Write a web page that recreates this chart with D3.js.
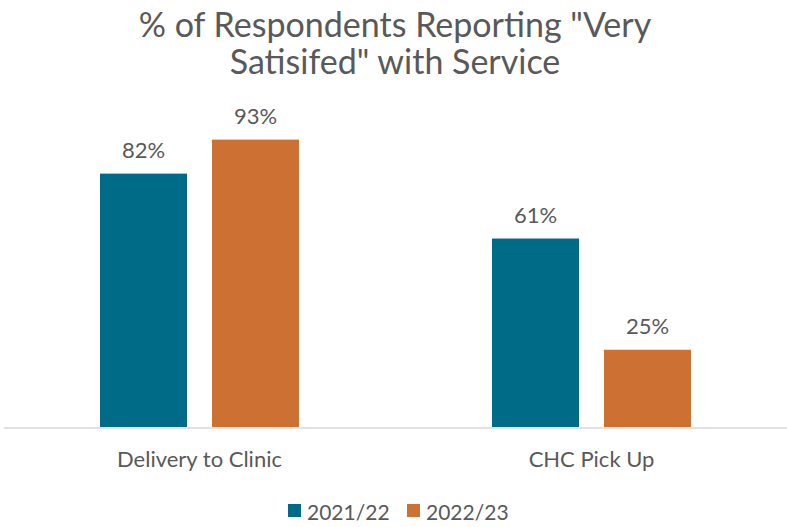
<!DOCTYPE html>
<html lang="en">
<head>
<meta charset="UTF-8">
<title>Very Satisfied with Service</title>
<script src="https://cdn.jsdelivr.net/npm/d3@7"></script>
<style>
  body { margin: 0; background: #fff; }
  text { font-family: Lato, "Open Sans", sans-serif; fill: #595959; }
</style>
</head>
<body>
<div id="chart"></div>
<script>
const categories = ["Delivery to Clinic", "CHC Pick Up"];
const seriesNames = ["2021/22", "2022/23"];
const values2122 = [0.82, 0.61];
const values2223 = [0.93, 0.25];
const titleLines = ["% of Respondents Reporting \"Very", "Satisifed\" with Service"];
const colors = ["#006B87", "#CD7034"];

const width = 787;
const height = 527;
const baseY = 427;

const svg = d3.select("#chart").append("svg")
    .attr("width", width)
    .attr("height", height);

const x = d3.scaleBand()
    .domain(categories)
    .range([3.5, 787.5])
    .padding(0);

const x1 = d3.scaleBand()
    .domain(seriesNames)
    .range([x.bandwidth() / 2 - 99.5, x.bandwidth() / 2 + 99.5])
    .paddingInner(0.2232)
    .paddingOuter(0);

const y = d3.scaleLinear()
    .domain([0, 1])
    .range([baseY, 118]);

const rows = categories.map((c, i) => ({
  category: c,
  values: [
    { series: seriesNames[0], value: values2122[i] },
    { series: seriesNames[1], value: values2223[i] }
  ]
}));

// title
svg.append("g").selectAll("text")
  .data(titleLines)
  .join("text")
    .attr("x", 395)
    .attr("y", (d, i) => 37 + i * 37)
    .attr("text-anchor", "middle")
    .style("font-size", "34px")
    .text(d => d);

// bars
const groups = svg.append("g").selectAll("g")
  .data(rows)
  .join("g")
    .attr("transform", d => `translate(${x(d.category)},0)`);

groups.selectAll("rect")
  .data(d => d.values)
  .join("rect")
    .attr("x", d => x1(d.series))
    .attr("y", d => y(d.value))
    .attr("width", x1.bandwidth())
    .attr("height", d => y(0) - y(d.value))
    .attr("fill", (d, i) => colors[i]);

groups.selectAll("text.val")
  .data(d => d.values)
  .join("text")
    .attr("class", "val")
    .attr("x", d => x1(d.series) + x1.bandwidth() / 2)
    .attr("y", d => y(d.value) - 16)
    .attr("text-anchor", "middle")
    .style("font-size", "22px")
    .text(d => d3.format(".0%")(d.value));

// x axis
const axis = svg.append("g")
    .attr("transform", `translate(0,${baseY + 0.5})`)
    .call(d3.axisBottom(x).tickSize(0).tickSizeOuter(0));
axis.select(".domain").attr("stroke", "#D9D9D9").attr("stroke-width", 1.5);
axis.selectAll(".tick text")
    .attr("y", 39)
    .attr("dy", null)
    .style("font-family", "Lato, 'Open Sans', sans-serif")
    .style("font-size", "22px")
    .attr("fill", "#595959");

// legend
const legendX = [288, 407];
const legend = svg.append("g").selectAll("g")
  .data(seriesNames)
  .join("g")
    .attr("transform", (d, i) => `translate(${legendX[i]},504)`);
legend.append("rect")
    .attr("width", 13)
    .attr("height", 13)
    .attr("fill", (d, i) => colors[i]);
legend.append("text")
    .attr("x", 19)
    .attr("y", 16)
    .style("font-size", "21px")
    .text(d => d);
</script>
</body>
</html>
